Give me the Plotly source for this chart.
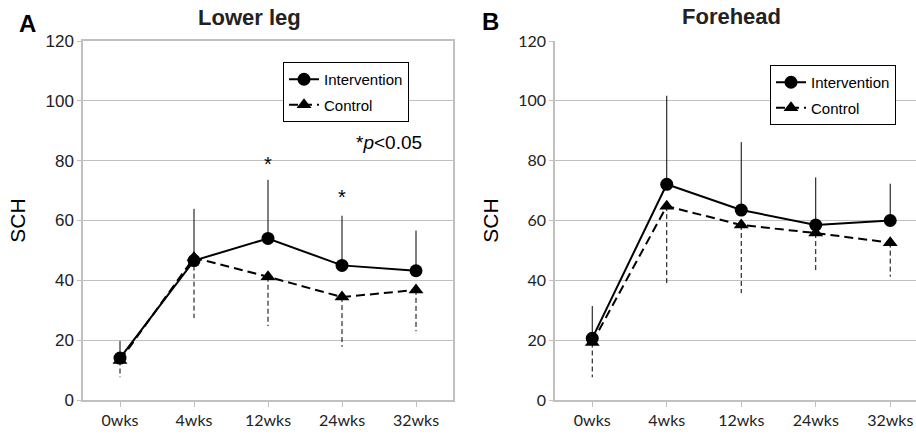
import plotly.graph_objects as go

categories = ["0wks", "4wks", "12wks", "24wks", "32wks"]
leg_int_mean = [14.0, 46.6, 54.0, 45.0, 43.2]
leg_int_sd = [5.7, 17.3, 19.6, 16.6, 13.4]
leg_ctl_mean = [13.2, 47.6, 41.2, 34.4, 36.8]
leg_ctl_sd = [5.6, 20.2, 16.5, 16.6, 13.8]
fh_int_mean = [20.6, 72.1, 63.5, 58.5, 60.0]
fh_int_sd = [10.8, 29.6, 22.7, 15.9, 12.3]
fh_ctl_mean = [19.2, 64.8, 58.5, 55.8, 52.6]
fh_ctl_sd = [11.6, 26.1, 22.8, 13.2, 11.4]
sig_idx = [2, 3]
sig_y = [79, 68]

xs = list(range(len(categories)))
fig = go.Figure()


def err_trace(means, sds, sign, dash, xa, ya):
    ex, ey = [], []
    for i, (m, s) in enumerate(zip(means, sds)):
        ex += [i, i, None]
        ey += [m, m + sign * s, None]
    return go.Scatter(x=ex, y=ey, mode="lines", xaxis=xa, yaxis=ya,
                      line=dict(color="black", width=1, dash=dash),
                      showlegend=False, hoverinfo="skip")


panels = [
    ("x", "y", "legend", leg_int_mean, leg_int_sd, leg_ctl_mean, leg_ctl_sd),
    ("x2", "y2", "legend2", fh_int_mean, fh_int_sd, fh_ctl_mean, fh_ctl_sd),
]
for xa, ya, lg, im, isd, cm, csd in panels:
    fig.add_trace(err_trace(im, isd, +1, "solid", xa, ya))
    fig.add_trace(err_trace(cm, csd, -1, "5px,3px", xa, ya))
    fig.add_trace(go.Scatter(x=xs, y=cm, mode="lines+markers", name="Control",
                             xaxis=xa, yaxis=ya, legend=lg, legendgroup="c", legendrank=2,
                             line=dict(color="black", width=2, dash="9px,5px"),
                             marker=dict(symbol="triangle-up", size=13, color="black")))
    fig.add_trace(go.Scatter(x=xs, y=im, mode="lines+markers", name="Intervention",
                             xaxis=xa, yaxis=ya, legend=lg, legendgroup="i", legendrank=1,
                             line=dict(color="black", width=2),
                             marker=dict(symbol="circle", size=13, color="black")))

grid = "#c0c0c0"
common_y = dict(range=[0, 120], dtick=20, showgrid=True, gridcolor=grid, gridwidth=1,
                showline=True, linecolor=grid, linewidth=1.5, ticks="outside", ticklen=4,
                tickcolor=grid, zeroline=False, automargin=False,
                title=dict(text="SCH", font=dict(family="Liberation Sans, Arial", size=21, color="black"),
                           standoff=14))
common_x = dict(tickmode="array", tickvals=xs, ticktext=categories, showgrid=False,
                showline=True, linecolor=grid, linewidth=1.5, ticks="outside", ticklen=5,
                tickcolor=grid, zeroline=False, automargin=False,
                tickfont=dict(family="Lato", size=16, color="#222"))

legend_common = dict(xanchor="left", yanchor="top", bordercolor="black", borderwidth=1,
                     bgcolor="white", traceorder="grouped", tracegroupgap=3,
                     itemwidth=30, entrywidth=105,
                     font=dict(family="Liberation Sans, Arial", size=15, color="black"))

fig.update_layout(
    width=916, height=439, margin=dict(l=0, r=0, t=0, b=0, autoexpand=False),
    paper_bgcolor="white", plot_bgcolor="white",
    xaxis=dict(common_x, domain=[83 / 916, 453 / 916], range=[-0.5, 4.5], mirror=True,
               anchor="y"),
    yaxis=dict(common_y, domain=[1 - 400 / 439, 1 - 41 / 439], mirror=True, anchor="x",
               tickfont=dict(family="Liberation Sans, Arial", size=17, color="#222")),
    xaxis2=dict(common_x, domain=[555 / 916, 1.0], range=[-0.5, 4.346], anchor="y2"),
    yaxis2=dict(common_y, domain=[1 - 400 / 439, 1 - 41 / 439], anchor="x2",
                tickfont=dict(family="Lato", size=16, color="#222")),
    legend=dict(legend_common, x=283 / 916, y=1 - 62 / 439),
    legend2=dict(legend_common, x=770 / 916, y=1 - 65 / 439),
    showlegend=True,
)

title_font = dict(family="Liberation Sans, Arial", size=22, color="#222")
ann = []
ann.append(dict(text="<b>Lower leg</b>", x=249 / 916, y=1 - 18 / 439, xref="paper", yref="paper",
                xanchor="center", yanchor="middle", showarrow=False, font=title_font))
ann.append(dict(text="<b>Forehead</b>", x=731 / 916, y=1 - 17 / 439, xref="paper", yref="paper",
                xanchor="center", yanchor="middle", showarrow=False, font=title_font))
ann.append(dict(text="<b>A</b>", x=27 / 916, y=1 - 24 / 439, xref="paper", yref="paper",
                xanchor="center", yanchor="middle", showarrow=False,
                font=dict(family="Liberation Sans, Arial", size=24, color="black")))
ann.append(dict(text="<b>B</b>", x=491 / 916, y=1 - 22 / 439, xref="paper", yref="paper",
                xanchor="center", yanchor="middle", showarrow=False,
                font=dict(family="Liberation Sans, Arial", size=24, color="black")))
ann.append(dict(text="*<i>p</i>&lt;0.05", x=3.63, y=86, xref="x", yref="y", showarrow=False,
                xanchor="center", yanchor="middle",
                font=dict(family="Liberation Sans, Arial", size=19, color="black")))
for i, yv in zip(sig_idx, sig_y):
    ann.append(dict(text="*", x=i, y=yv, xref="x", yref="y", showarrow=False,
                    xanchor="center", yanchor="middle",
                    font=dict(family="Liberation Sans, Arial", size=20, color="black")))
fig.update_layout(annotations=ann)

fig.write_html("out.html", config={"displayModeBar": False},
               post_script="document.body.style.margin='0';document.body.style.overflow='hidden';")
